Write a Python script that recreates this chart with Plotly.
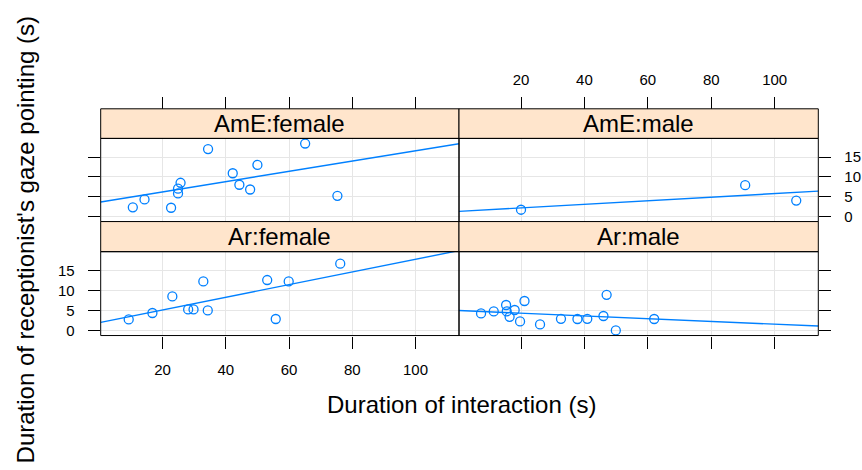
import numpy as np
import plotly.graph_objects as go

# Duration of interaction (s) and receptionist's gaze pointing (s), per group
amE_female_x = [10.6, 14.3, 22.7, 24.9, 24.9, 25.7, 34.4, 42.2, 44.3, 47.7, 50.0, 65.1, 75.3]
amE_female_y = [2.3, 4.3, 2.2, 5.8, 7.0, 8.5, 17.0, 10.9, 8.0, 6.8, 13.0, 18.4, 5.2]

amE_male_x = [20.0, 90.7, 106.8]
amE_male_y = [1.7, 7.9, 4.0]

ar_female_x = [9.3, 16.8, 23.1, 28.1, 29.8, 32.9, 34.3, 53.1, 55.8, 59.9, 76.2]
ar_female_y = [2.75, 4.35, 8.5, 5.25, 5.25, 12.25, 5.0, 12.6, 2.85, 12.25, 16.7]

ar_male_x = [7.4, 11.4, 15.3, 15.5, 16.4, 18.0, 19.7, 21.1, 26.0, 32.6, 37.8, 40.9,
             46.0, 47.0, 49.9, 62.0]
ar_male_y = [4.25, 4.75, 6.35, 4.75, 3.4, 5.1, 2.25, 7.35, 1.5, 2.9, 2.85, 2.9,
             3.6, 8.9, 0.0, 2.85]

panel_names = ["AmE:female", "AmE:male", "Ar:female", "Ar:male"]
x_ticks = [20, 40, 60, 80, 100]
y_ticks = [0, 5, 10, 15]

W, H = 862, 470
BLUE = "#0080ff"
STRIP = "#ffe5cc"
GRID = "#e6e6e6"
FONT = "Liberation Sans, Arial, Helvetica, sans-serif"


def px_x(p):
    return p / W


def px_y(p):
    return 1 - p / H


# panel geometry (pixels)
cols = [(100.7, 459.0), (459.0, 818.3)]
rows = [  # (strip top, strip bottom/panel top, panel bottom)
    (109.5, 139.3, 223.0),
    (223.0, 253.3, 337.7),
]

panels = [
    (amE_female_x, amE_female_y, 0, 0),
    (amE_male_x, amE_male_y, 0, 1),
    (ar_female_x, ar_female_y, 1, 0),
    (ar_male_x, ar_male_y, 1, 1),
]

# shared scales with lattice-style 7% padding
all_x = np.concatenate([np.asarray(p[0], float) for p in panels])
all_y = np.concatenate([np.asarray(p[1], float) for p in panels])
xr = all_x.max() - all_x.min()
yr = all_y.max() - all_y.min()
x_range = [all_x.min() - 0.07 * xr, all_x.max() + 0.07 * xr]
y_range = [all_y.min() - 0.07 * yr, all_y.max() + 0.07 * yr]

fig = go.Figure()
layout = dict(
    width=W, height=H,
    margin=dict(l=0, r=0, t=0, b=0),
    paper_bgcolor="white", plot_bgcolor="white",
    showlegend=False,
    font=dict(family=FONT, color="black"),
)
shapes = []
annotations = []

for i, (xs, ys, r, c) in enumerate(panels):
    n = i + 1
    xa = "xaxis" if n == 1 else f"xaxis{n}"
    ya = "yaxis" if n == 1 else f"yaxis{n}"
    xref = "x" if n == 1 else f"x{n}"
    yref = "y" if n == 1 else f"y{n}"

    x0, x1 = cols[c]
    s_top, p_top, p_bot = rows[r]

    xs = np.asarray(xs, float)
    ys = np.asarray(ys, float)
    slope, intercept = np.polyfit(xs, ys, 1)
    lx = np.array(x_range)

    fig.add_trace(go.Scatter(
        x=lx, y=intercept + slope * lx, mode="lines",
        line=dict(color=BLUE, width=1.4),
        xaxis=xref, yaxis=yref, hoverinfo="skip", cliponaxis=True,
    ))
    fig.add_trace(go.Scatter(
        x=xs, y=ys, mode="markers",
        marker=dict(symbol="circle-open", size=9, color=BLUE,
                    line=dict(width=1.3, color=BLUE)),
        xaxis=xref, yaxis=yref, cliponaxis=False,
    ))

    x_axis = dict(
        domain=[px_x(x0), px_x(x1)], range=x_range,
        tickvals=x_ticks, ticks="outside", ticklen=12, tickwidth=1,
        tickcolor="black", showgrid=True, gridcolor=GRID, gridwidth=1,
        zeroline=False, showline=False,
        tickfont=dict(size=15, family=FONT, color="black"),
    )
    if r == 0:
        x_axis.update(side="top", anchor="free", position=px_y(s_top),
                      showticklabels=(c == 1), ticklabelstandoff=6)
    else:
        x_axis.update(side="bottom", anchor=yref,
                      showticklabels=(c == 0), ticklabelstandoff=8)
    layout[xa] = x_axis

    y_axis = dict(
        domain=[px_y(p_bot), px_y(p_top)], range=y_range,
        tickvals=y_ticks, ticks="outside", ticklen=12, tickwidth=1,
        tickcolor="black", showgrid=True, gridcolor=GRID, gridwidth=1,
        zeroline=False, showline=False, anchor=xref,
        side="left" if c == 0 else "right",
        showticklabels=(c == 0 and r == 1) or (c == 1 and r == 0),
        ticklabelstandoff=10,
        tickfont=dict(size=15, family=FONT, color="black"),
    )
    layout[ya] = y_axis

    # strip above the panel
    shapes.append(dict(type="rect", xref="paper", yref="paper",
                       x0=px_x(x0), x1=px_x(x1), y0=px_y(p_top), y1=px_y(s_top),
                       fillcolor=STRIP, line=dict(color="black", width=1),
                       layer="above"))
    # panel border
    shapes.append(dict(type="rect", xref="paper", yref="paper",
                       x0=px_x(x0), x1=px_x(x1), y0=px_y(p_bot), y1=px_y(p_top),
                       line=dict(color="black", width=1), layer="above"))
    annotations.append(dict(
        text=panel_names[i], xref="paper", yref="paper",
        x=px_x((x0 + x1) / 2), y=px_y((s_top + p_top) / 2),
        xanchor="center", yanchor="middle", showarrow=False,
        font=dict(size=24, family=FONT, color="black"),
    ))

annotations.append(dict(
    text="Duration of interaction (s)", xref="paper", yref="paper",
    x=px_x(461), y=px_y(407), xanchor="center", yanchor="middle",
    showarrow=False, font=dict(size=24, family=FONT, color="black"),
))
annotations.append(dict(
    text="Duration of receptionist's gaze pointing (s)", xref="paper", yref="paper",
    x=px_x(25), y=px_y(242), xanchor="center", yanchor="middle", textangle=-90,
    showarrow=False, font=dict(size=24, family=FONT, color="black"),
))

layout["shapes"] = shapes
layout["annotations"] = annotations
fig.update_layout(**layout)
fig.write_html("out.html")
